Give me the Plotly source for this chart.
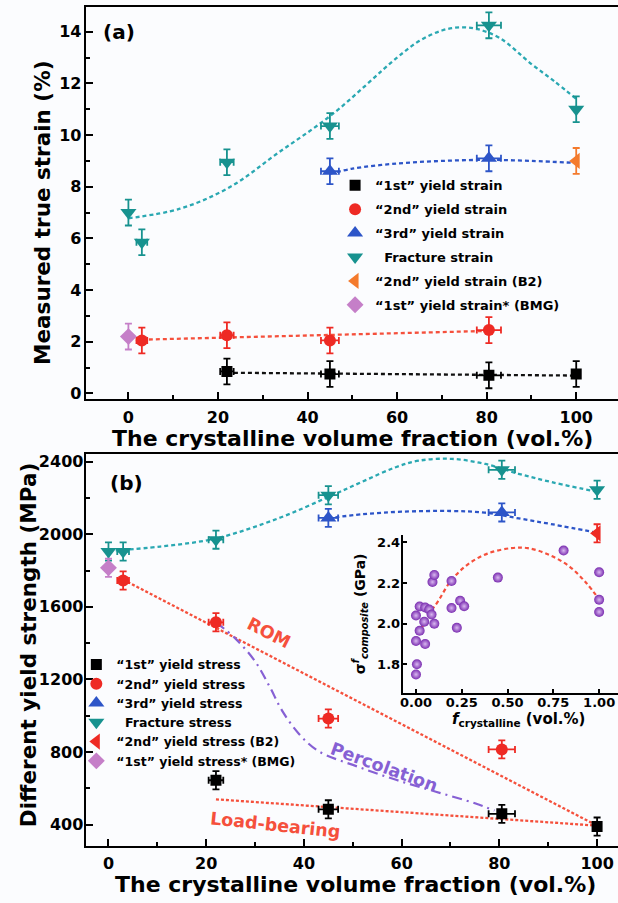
import plotly.graph_objects as go

# ---------------- Panel (a): measured true strain (%) ----------------
a1_x = [22, 45, 80.5, 100]
a1_y = [0.85, 0.75, 0.7, 0.75]
a1_ex = [1.5, 2.0, 2.7, 0]
a1_ey = [0.5, 0.5, 0.5, 0.5]

a2_x = [3, 22, 45, 80.5]
a2_y = [2.05, 2.25, 2.05, 2.45]
a2_ex = [1.2, 1.5, 2.0, 2.7]
a2_ey = [0.5, 0.5, 0.5, 0.5]

a3_x = [45, 80.5]
a3_y = [8.6, 9.1]
a3_ex = [2.0, 2.7]
a3_ey = [0.5, 0.5]

af_x = [0, 3, 22, 45, 80.5, 100]
af_y = [7.0, 5.85, 8.95, 10.35, 14.25, 11.0]
af_ex = [0, 1.2, 1.5, 2.0, 2.7, 0]
af_ey = [0.5, 0.5, 0.5, 0.5, 0.5, 0.5]

ab2_x = [100]
ab2_y = [9.0]
ab2_ey = [0.5]

abmg_x = [0]
abmg_y = [2.2]
abmg_ey = [0.5]

# fitted / guide curves
fa_fr_x = [0, 11.5, 22.5, 33.5, 45.5, 60, 65, 70, 74, 78, 83, 90, 95, 100]
fa_fr_y = [6.78, 7.15, 7.97, 9.32, 10.8, 13.0, 13.65, 14.05, 14.17, 14.1, 13.75, 12.75, 12.1, 11.4]
fa_3_x = [45, 50, 60, 70, 80, 90, 100]
fa_3_y = [8.5, 8.7, 8.9, 9.0, 9.04, 9.0, 8.92]
fa_2_x = [3, 80.5]
fa_2_y = [2.08, 2.42]
fa_1_x = [22, 100]
fa_1_y = [0.8, 0.69]

# ---------------- Panel (b): yield strength (MPa) ----------------
b1_x = [22, 45, 80.5, 100]
b1_y = [645, 485, 460, 390]
b1_ex = [1.5, 2.0, 2.7, 0]
b1_ey = [50, 50, 50, 50]

b2_x = [3, 22, 45, 80.5]
b2_y = [1745, 1515, 985, 815]
b2_ex = [1.2, 1.5, 2.0, 2.7]
b2_ey = [50, 50, 50, 50]

b3_x = [45, 80.5]
b3_y = [2090, 2120]
b3_ex = [2.0, 2.7]
b3_ey = [50, 50]

bf_x = [0, 3, 22, 45, 80.5, 100]
bf_y = [1905, 1905, 1970, 2215, 2355, 2245]
bf_ex = [0, 1.2, 1.5, 2.0, 2.7, 0]
bf_ey = [50, 50, 50, 50, 50, 50]

bb2_x = [100]
bb2_y = [2005]
bb2_ey = [50]

bbmg_x = [0]
bbmg_y = [1815]
bbmg_ey = [50]

fb_fr_x = [0, 10.6, 22, 34.7, 45, 52, 58.8, 63.5, 70.3, 77.1, 83.9, 90.7, 98.8, 100]
fb_fr_y = [1908, 1932, 1977, 2087, 2205, 2290, 2369, 2405, 2415, 2387, 2333, 2287, 2241, 2236]
fb_3_x = [45, 52, 60, 70, 77, 84, 91, 100]
fb_3_y = [2088, 2110, 2124, 2128, 2119, 2087, 2054, 2008]
rom_x = [3, 100]
rom_y = [1750, 395]
load_x = [22, 100]
load_y = [540, 395]
perc_x = [22, 26, 30, 33, 35.5, 39, 43, 51, 59, 67, 75, 79]
perc_y = [1515, 1425, 1300, 1160, 1030, 900, 805, 720, 646, 582, 518, 478]

# ---------------- Inset ----------------
in_x = [0, 0.005, 0, 0.05, 0.02, 0, 0.045, 0.1, 0.02, 0.05, 0.072, 0.085,
        0.09, 0.1, 0.194, 0.194, 0.223, 0.241, 0.263, 0.447, 0.806, 1.0, 1.0, 1.0]
in_y = [1.75, 1.80, 1.915, 1.90, 1.965, 2.04, 2.01, 2.0, 2.085, 2.08, 2.07, 2.045,
        2.205, 2.24, 2.21, 2.077, 1.98, 2.113, 2.086, 2.227, 2.36, 2.253, 2.118, 2.058]
in_fit_x = [0, 0.06, 0.12, 0.19, 0.28, 0.39, 0.52, 0.61, 0.73, 0.84, 0.93, 1.0]
in_fit_y = [1.915, 2.03, 2.11, 2.21, 2.29, 2.345, 2.372, 2.372, 2.338, 2.28, 2.2, 2.12]

# ---------------- labels ----------------
leg_a = ["\u201c1st\u201d yield strain", "\u201c2nd\u201d yield strain", "\u201c3rd\u201d yield strain",
         "\u00a0\u00a0Fracture strain", "\u201c2nd\u201d yield strain (B2)", "\u201c1st\u201d yield strain* (BMG)"]
leg_b = ["\u201c1st\u201d yield stress", "\u201c2nd\u201d yield stress", "\u201c3rd\u201d yield stress",
         "\u00a0\u00a0Fracture stress", "\u201c2nd\u201d yield stress (B2)", "\u201c1st\u201d yield stress* (BMG)"]

W, H = 618, 903
FONT = "DejaVu Sans"
BLACK = "#000000"
RED = "#ee2a24"
BLUE = "#2d55c8"
TEAL = "#17928f"
TEAL_L = "#2aa8b2"
ORANGE = "#f47a2c"
VIOLET = "#c57fc8"
LINE_RED = "#f5503c"
PURPLE = "#8660d4"

fig = go.Figure()


def line(x, y, color, xa, ya, dash="4px,3px", width=2.3, shape="spline"):
    fig.add_trace(go.Scatter(x=x, y=y, mode="lines", xaxis=xa, yaxis=ya, showlegend=False,
                             hoverinfo="skip",
                             line=dict(color=color, width=width, dash=dash, shape=shape, smoothing=1.0)))


def pts(x, y, ex, ey, color, symbol, size, name, xa, ya, legend, group):
    kw = {}
    if ex is not None:
        kw["error_x"] = dict(type="data", array=ex, color=color, thickness=1.8, width=3.5)
    fig.add_trace(go.Scatter(
        x=x, y=y, mode="markers", name=name, xaxis=xa, yaxis=ya, legend=legend,
        legendgroup=group,
        marker=dict(symbol=symbol, size=size, color=color, line=dict(width=0)),
        error_y=dict(type="data", array=ey, color=color, thickness=1.8, width=3.5),
        **kw))


# Panel (a) curves
line(fa_fr_x, fa_fr_y, TEAL_L, "x", "y")
line(fa_3_x, fa_3_y, BLUE, "x", "y")
line(fa_2_x, fa_2_y, LINE_RED, "x", "y", shape="linear")
line(fa_1_x, fa_1_y, "#111111", "x", "y", shape="linear")
# Panel (a) points
pts(a1_x, a1_y, a1_ex, a1_ey, BLACK, "square", 11, leg_a[0], "x", "y", "legend", "a1")
pts(a2_x, a2_y, a2_ex, a2_ey, RED, "circle", 12, leg_a[1], "x", "y", "legend", "a2")
pts(a3_x, a3_y, a3_ex, a3_ey, BLUE, "triangle-up", 14, leg_a[2], "x", "y", "legend", "a3")
pts(af_x, af_y, af_ex, af_ey, TEAL, "triangle-down", 14, leg_a[3], "x", "y", "legend", "a4")
pts(ab2_x, ab2_y, None, ab2_ey, ORANGE, "triangle-left", 14, leg_a[4], "x", "y", "legend", "a5")
pts(abmg_x, abmg_y, None, abmg_ey, VIOLET, "diamond", 13, leg_a[5], "x", "y", "legend", "a6")

# Panel (b) curves
line(fb_fr_x, fb_fr_y, TEAL_L, "x2", "y2")
line(fb_3_x, fb_3_y, BLUE, "x2", "y2")
line(rom_x, rom_y, LINE_RED, "x2", "y2", dash="3px,2px", shape="linear")
line(load_x, load_y, LINE_RED, "x2", "y2", dash="3px,2px", shape="linear")
line(perc_x, perc_y, PURPLE, "x2", "y2", dash="10px,5px,2px,5px", width=2.2)
# Panel (b) points
pts(b1_x, b1_y, b1_ex, b1_ey, BLACK, "square", 11, leg_b[0], "x2", "y2", "legend2", "b1")
pts(b2_x, b2_y, b2_ex, b2_ey, RED, "circle", 12, leg_b[1], "x2", "y2", "legend2", "b2")
pts(b3_x, b3_y, b3_ex, b3_ey, BLUE, "triangle-up", 14, leg_b[2], "x2", "y2", "legend2", "b3")
pts(bf_x, bf_y, bf_ex, bf_ey, TEAL, "triangle-down", 14, leg_b[3], "x2", "y2", "legend2", "b4")
pts(bb2_x, bb2_y, None, bb2_ey, RED, "triangle-left", 14, leg_b[4], "x2", "y2", "legend2", "b5")
pts(bbmg_x, bbmg_y, None, bbmg_ey, VIOLET, "diamond", 13, leg_b[5], "x2", "y2", "legend2", "b6")

# Inset
line(in_fit_x, in_fit_y, LINE_RED, "x3", "y3", dash="4px,3px", width=2.2)
fig.add_trace(go.Scatter(x=in_x, y=in_y, mode="markers", xaxis="x3", yaxis="y3", showlegend=False,
                         marker=dict(size=10, color="#7a2db0",
                                     gradient=dict(type="radial", color="#d9b8f0"),
                                     line=dict(width=0))))


def px_x(p):
    return p / W


def px_y(p):
    return 1 - p / H


tickfont = dict(family=FONT, size=16, color="black", weight="bold")
common = dict(showline=True, linecolor="black", linewidth=2, ticks="inside", ticklen=7,
              tickwidth=2, tickcolor="black", showgrid=False, zeroline=False, tickfont=tickfont)
minor_x = dict(dtick=10, ticklen=4, tickwidth=1.5, ticks="inside", tickcolor="black")

fig.update_layout(
    width=W, height=H, margin=dict(l=0, r=0, t=0, b=0),
    paper_bgcolor="#fbfcfe", plot_bgcolor="rgba(0,0,0,0)",
    font=dict(family=FONT, color="black"),
    xaxis=dict(domain=[px_x(83), 1], range=[-9.56, 109.33], anchor="y", mirror=True,
               tickvals=[0, 20, 40, 60, 80, 100], minor=minor_x, ticklabelstandoff=2,
               **common),
    yaxis=dict(domain=[px_y(400), px_y(5)], range=[-0.23, 14.96], anchor="x",
               tickvals=[0, 2, 4, 6, 8, 10, 12, 14], ticklabelstandoff=-1,
               minor=dict(dtick=1, ticklen=4, tickwidth=1.5, ticks="inside", tickcolor="black"),
               **common),
    xaxis2=dict(domain=[px_x(83), 1], range=[-4.68, 104.28], anchor="y2", mirror=True,
                tickvals=[0, 20, 40, 60, 80, 100], minor=minor_x, ticklabelstandoff=1,
                **common),
    yaxis2=dict(domain=[px_y(850), px_y(455)], range=[281, 2442], anchor="x2",
                tickvals=[400, 800, 1200, 1600, 2000, 2400], ticklabelstandoff=-3,
                minor=dict(dtick=200, ticklen=4, tickwidth=1.5, ticks="inside", tickcolor="black"),
                **common),
    xaxis3=dict(domain=[px_x(401.7), 1], range=[-0.0723, 1.103], anchor="y3",
                showline=True, linecolor="black", linewidth=2, ticks="inside", ticklen=4,
                tickwidth=2, tickcolor="black", showgrid=False, zeroline=False,
                tickvals=[0, 0.25, 0.5, 0.75, 1.0], ticktext=["0.00", "0.25", "0.50", "0.75", "1.00"],
                ticklabelstandoff=-4,
                tickfont=dict(family=FONT, size=13, color="black", weight="bold")),
    yaxis3=dict(domain=[px_y(696), px_y(536.7)], range=[1.657, 2.436], anchor="x3",
                showline=True, linecolor="black", linewidth=2, ticks="inside", ticklen=4,
                tickwidth=2, tickcolor="black", showgrid=False, zeroline=False,
                tickvals=[1.8, 2.0, 2.2, 2.4], ticktext=["1.8", "2.0", "2.2", "2.4"],
                ticklabelstandoff=-2,
                tickfont=dict(family=FONT, size=13, color="black", weight="bold")),
    legend=dict(x=px_x(333.7), y=px_y(169.5), xanchor="left", yanchor="top",
                bgcolor="rgba(0,0,0,0)", traceorder="grouped", tracegroupgap=4,
                font=dict(family=FONT, size=13, color="black", weight="bold")),
    legend2=dict(x=px_x(73.7), y=px_y(652.3), xanchor="left", yanchor="top",
                 bgcolor="rgba(0,0,0,0)", traceorder="grouped", tracegroupgap=0,
                 font=dict(family=FONT, size=12.5, color="black", weight="bold")),
)

ann = []


def txt(text, x, y, size, color="black", angle=0, xref="paper", yref="paper"):
    ann.append(dict(text=text, x=x, y=y, xref=xref, yref=yref, showarrow=False, textangle=angle,
                    xanchor="center", yanchor="middle",
                    font=dict(family=FONT, size=size, color=color, weight="bold")))


# axis titles
txt("Measured true strain (%)", px_x(39.5), px_y(212), 21.5, angle=-90)
txt("The crystalline volume fraction (vol.%)", px_x(351), px_y(439.5), 22)
txt("Different yield strength (MPa)", px_x(25.6), px_y(647), 21.5, angle=-90)
txt("The crystalline volume fraction (vol.%)", px_x(354), px_y(888), 22)
# inset titles
txt("<i>f</i><sub>crystalline</sub> (vol.%)", px_x(518), px_y(722), 15)
txt("\u03c3<sup><i>f</i></sup><sub><i>composite</i></sub> (GPa)", px_x(359), px_y(616), 14, angle=-90)
# panel labels
txt("(a)", -2.2, 14.0, 20, xref="x", yref="y")
txt("(b)", 3.7, 2283, 20, xref="x2", yref="y2")
# model labels
txt("ROM", 32.9, 1457, 17.5, color=LINE_RED, angle=27, xref="x2", yref="y2")
txt("Percolation", 56.4, 719, 17.5, color=PURPLE, angle=20, xref="x2", yref="y2")
txt("Load-bearing", 34.1, 396, 17.5, color=LINE_RED, angle=6, xref="x2", yref="y2")

fig.update_layout(annotations=ann)
fig.write_html("out.html", config={"displayModeBar": False},
               post_script="document.body.style.margin='0px';")
